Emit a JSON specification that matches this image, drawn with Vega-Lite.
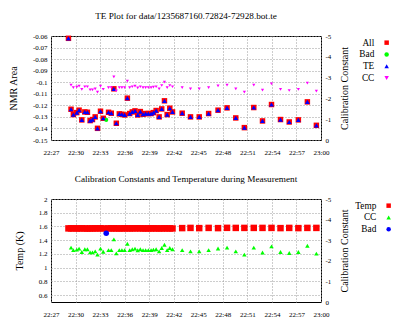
{
  "$schema": "https://vega.github.io/schema/vega-lite/v6.json",
  "background": "white",
  "padding": {"left": 8, "top": 11, "right": 0, "bottom": 0},
  "spacing": 18,
  "config": {
    "font": "Liberation Serif",
    "view": {"stroke": "#000000", "strokeWidth": 1},
    "axis": {
      "labelFont": "Liberation Serif", "labelFontSize": 7, "labelColor": "#000000",
      "titleFont": "Liberation Serif", "titleFontSize": 10, "titleFontWeight": "normal", "titleColor": "#000000",
      "domain": false, "ticks": false, "gridColor": "#9a9a9a", "gridDash": [1, 2]
    },
    "legend": {"labelFont": "Liberation Serif", "labelFontSize": 9.3, "labelColor": "#000000", "labelAlign": "right", "labelOffset": -17, "symbolSize": 20, "rowPadding": 1.8, "padding": 0, "symbolStrokeWidth": 0},
    "title": {"font": "Liberation Serif", "fontSize": 9.2, "fontWeight": "normal", "color": "#000000", "offset": 11}
  },
  "resolve": {"scale": {"color": "independent", "shape": "independent", "size": "independent"}},
  "vconcat": [
    {
      "title": "TE Plot for data/1235687160.72824-72928.bot.te",
      "width": 270,
      "height": 104,
      "data": {"values": [
        {"s": "All", "t": "2009-02-26T22:29:08", "v": -0.062},
        {"s": "All", "t": "2009-02-26T22:29:27", "v": -0.1234},
        {"s": "All", "t": "2009-02-26T22:29:44", "v": -0.128},
        {"s": "All", "t": "2009-02-26T22:30:09", "v": -0.1263},
        {"s": "All", "t": "2009-02-26T22:30:26", "v": -0.1242},
        {"s": "All", "t": "2009-02-26T22:30:46", "v": -0.1326},
        {"s": "All", "t": "2009-02-26T22:31:08", "v": -0.1257},
        {"s": "All", "t": "2009-02-26T22:31:27", "v": -0.126},
        {"s": "All", "t": "2009-02-26T22:31:47", "v": -0.1332},
        {"s": "All", "t": "2009-02-26T22:32:04", "v": -0.1323},
        {"s": "All", "t": "2009-02-26T22:32:24", "v": -0.130},
        {"s": "All", "t": "2009-02-26T22:32:41", "v": -0.1399},
        {"s": "All", "t": "2009-02-26T22:33:03", "v": -0.1251},
        {"s": "All", "t": "2009-02-26T22:33:23", "v": -0.1312},
        {"s": "All", "t": "2009-02-26T22:34:02", "v": -0.126},
        {"s": "All", "t": "2009-02-26T22:34:22", "v": -0.1268},
        {"s": "All", "t": "2009-02-26T22:34:41", "v": -0.1057},
        {"s": "All", "t": "2009-02-26T22:34:59", "v": -0.1355},
        {"s": "All", "t": "2009-02-26T22:35:21", "v": -0.1274},
        {"s": "All", "t": "2009-02-26T22:35:40", "v": -0.1277},
        {"s": "All", "t": "2009-02-26T22:36:00", "v": -0.1283},
        {"s": "All", "t": "2009-02-26T22:36:20", "v": -0.1138},
        {"s": "All", "t": "2009-02-26T22:36:37", "v": -0.1271},
        {"s": "All", "t": "2009-02-26T22:36:56", "v": -0.1257},
        {"s": "All", "t": "2009-02-26T22:37:16", "v": -0.1248},
        {"s": "All", "t": "2009-02-26T22:37:36", "v": -0.1283},
        {"s": "All", "t": "2009-02-26T22:37:55", "v": -0.1254},
        {"s": "All", "t": "2009-02-26T22:38:15", "v": -0.1277},
        {"s": "All", "t": "2009-02-26T22:38:34", "v": -0.1271},
        {"s": "All", "t": "2009-02-26T22:38:54", "v": -0.1271},
        {"s": "All", "t": "2009-02-26T22:39:14", "v": -0.1271},
        {"s": "All", "t": "2009-02-26T22:39:31", "v": -0.1263},
        {"s": "All", "t": "2009-02-26T22:39:51", "v": -0.1245},
        {"s": "All", "t": "2009-02-26T22:40:13", "v": -0.130},
        {"s": "All", "t": "2009-02-26T22:40:32", "v": -0.1231},
        {"s": "All", "t": "2009-02-26T22:40:52", "v": -0.1161},
        {"s": "All", "t": "2009-02-26T22:41:12", "v": -0.128},
        {"s": "All", "t": "2009-02-26T22:41:31", "v": -0.1225},
        {"s": "All", "t": "2009-02-26T22:41:51", "v": -0.1257},
        {"s": "All", "t": "2009-02-26T22:43:02", "v": -0.1268},
        {"s": "All", "t": "2009-02-26T22:44:03", "v": -0.130},
        {"s": "All", "t": "2009-02-26T22:45:07", "v": -0.130},
        {"s": "All", "t": "2009-02-26T22:46:16", "v": -0.1271},
        {"s": "All", "t": "2009-02-26T22:47:25", "v": -0.1242},
        {"s": "All", "t": "2009-02-26T22:48:31", "v": -0.1222},
        {"s": "All", "t": "2009-02-26T22:49:35", "v": -0.1309},
        {"s": "All", "t": "2009-02-26T22:50:38", "v": -0.1393},
        {"s": "All", "t": "2009-02-26T22:51:47", "v": -0.1219},
        {"s": "All", "t": "2009-02-26T22:52:51", "v": -0.1335},
        {"s": "All", "t": "2009-02-26T22:53:57", "v": -0.1193},
        {"s": "All", "t": "2009-02-26T22:55:03", "v": -0.1323},
        {"s": "All", "t": "2009-02-26T22:56:07", "v": -0.1344},
        {"s": "All", "t": "2009-02-26T22:57:14", "v": -0.1326},
        {"s": "All", "t": "2009-02-26T22:58:20", "v": -0.117},
        {"s": "All", "t": "2009-02-26T22:59:26", "v": -0.1373},
        {"s": "Bad", "t": "2009-02-26T22:33:45", "v": -0.1326},
        {"s": "TE", "t": "2009-02-26T22:29:08", "v": -0.062},
        {"s": "TE", "t": "2009-02-26T22:29:27", "v": -0.1234},
        {"s": "TE", "t": "2009-02-26T22:29:44", "v": -0.128},
        {"s": "TE", "t": "2009-02-26T22:30:09", "v": -0.1263},
        {"s": "TE", "t": "2009-02-26T22:30:26", "v": -0.1242},
        {"s": "TE", "t": "2009-02-26T22:30:46", "v": -0.1326},
        {"s": "TE", "t": "2009-02-26T22:31:08", "v": -0.1257},
        {"s": "TE", "t": "2009-02-26T22:31:27", "v": -0.126},
        {"s": "TE", "t": "2009-02-26T22:31:47", "v": -0.1332},
        {"s": "TE", "t": "2009-02-26T22:32:04", "v": -0.1323},
        {"s": "TE", "t": "2009-02-26T22:32:24", "v": -0.130},
        {"s": "TE", "t": "2009-02-26T22:32:41", "v": -0.1399},
        {"s": "TE", "t": "2009-02-26T22:33:03", "v": -0.1251},
        {"s": "TE", "t": "2009-02-26T22:33:23", "v": -0.1312},
        {"s": "TE", "t": "2009-02-26T22:34:02", "v": -0.126},
        {"s": "TE", "t": "2009-02-26T22:34:22", "v": -0.1268},
        {"s": "TE", "t": "2009-02-26T22:34:41", "v": -0.1057},
        {"s": "TE", "t": "2009-02-26T22:34:59", "v": -0.1355},
        {"s": "TE", "t": "2009-02-26T22:35:21", "v": -0.1274},
        {"s": "TE", "t": "2009-02-26T22:35:40", "v": -0.1277},
        {"s": "TE", "t": "2009-02-26T22:36:00", "v": -0.1283},
        {"s": "TE", "t": "2009-02-26T22:36:20", "v": -0.1138},
        {"s": "TE", "t": "2009-02-26T22:36:37", "v": -0.1271},
        {"s": "TE", "t": "2009-02-26T22:36:56", "v": -0.1257},
        {"s": "TE", "t": "2009-02-26T22:37:16", "v": -0.1248},
        {"s": "TE", "t": "2009-02-26T22:37:36", "v": -0.1283},
        {"s": "TE", "t": "2009-02-26T22:37:55", "v": -0.1254},
        {"s": "TE", "t": "2009-02-26T22:38:15", "v": -0.1277},
        {"s": "TE", "t": "2009-02-26T22:38:34", "v": -0.1271},
        {"s": "TE", "t": "2009-02-26T22:38:54", "v": -0.1271},
        {"s": "TE", "t": "2009-02-26T22:39:14", "v": -0.1271},
        {"s": "TE", "t": "2009-02-26T22:39:31", "v": -0.1263},
        {"s": "TE", "t": "2009-02-26T22:39:51", "v": -0.1245},
        {"s": "TE", "t": "2009-02-26T22:40:13", "v": -0.130},
        {"s": "TE", "t": "2009-02-26T22:40:32", "v": -0.1231},
        {"s": "TE", "t": "2009-02-26T22:40:52", "v": -0.1161},
        {"s": "TE", "t": "2009-02-26T22:41:12", "v": -0.128},
        {"s": "TE", "t": "2009-02-26T22:41:31", "v": -0.1225},
        {"s": "TE", "t": "2009-02-26T22:41:51", "v": -0.1257},
        {"s": "TE", "t": "2009-02-26T22:43:02", "v": -0.1268},
        {"s": "TE", "t": "2009-02-26T22:44:03", "v": -0.130},
        {"s": "TE", "t": "2009-02-26T22:45:07", "v": -0.130},
        {"s": "TE", "t": "2009-02-26T22:46:16", "v": -0.1271},
        {"s": "TE", "t": "2009-02-26T22:47:25", "v": -0.1242},
        {"s": "TE", "t": "2009-02-26T22:48:31", "v": -0.1222},
        {"s": "TE", "t": "2009-02-26T22:49:35", "v": -0.1309},
        {"s": "TE", "t": "2009-02-26T22:50:38", "v": -0.1393},
        {"s": "TE", "t": "2009-02-26T22:51:47", "v": -0.1219},
        {"s": "TE", "t": "2009-02-26T22:52:51", "v": -0.1335},
        {"s": "TE", "t": "2009-02-26T22:53:57", "v": -0.1193},
        {"s": "TE", "t": "2009-02-26T22:55:03", "v": -0.1323},
        {"s": "TE", "t": "2009-02-26T22:56:07", "v": -0.1344},
        {"s": "TE", "t": "2009-02-26T22:57:14", "v": -0.1326},
        {"s": "TE", "t": "2009-02-26T22:58:20", "v": -0.117},
        {"s": "TE", "t": "2009-02-26T22:59:26", "v": -0.1373},
        {"s": "CC", "t": "2009-02-26T22:29:27", "v": -2.64},
        {"s": "CC", "t": "2009-02-26T22:29:44", "v": -2.52},
        {"s": "CC", "t": "2009-02-26T22:30:09", "v": -2.54},
        {"s": "CC", "t": "2009-02-26T22:30:26", "v": -2.59},
        {"s": "CC", "t": "2009-02-26T22:30:46", "v": -2.43},
        {"s": "CC", "t": "2009-02-26T22:31:08", "v": -2.56},
        {"s": "CC", "t": "2009-02-26T22:31:27", "v": -2.56},
        {"s": "CC", "t": "2009-02-26T22:31:47", "v": -2.41},
        {"s": "CC", "t": "2009-02-26T22:32:04", "v": -2.41},
        {"s": "CC", "t": "2009-02-26T22:32:24", "v": -2.46},
        {"s": "CC", "t": "2009-02-26T22:32:41", "v": -2.30},
        {"s": "CC", "t": "2009-02-26T22:33:03", "v": -2.59},
        {"s": "CC", "t": "2009-02-26T22:33:23", "v": -2.44},
        {"s": "CC", "t": "2009-02-26T22:34:02", "v": -2.52},
        {"s": "CC", "t": "2009-02-26T22:34:22", "v": -2.52},
        {"s": "CC", "t": "2009-02-26T22:34:41", "v": -3.04},
        {"s": "CC", "t": "2009-02-26T22:34:59", "v": -2.36},
        {"s": "CC", "t": "2009-02-26T22:35:21", "v": -2.52},
        {"s": "CC", "t": "2009-02-26T22:35:40", "v": -2.52},
        {"s": "CC", "t": "2009-02-26T22:36:00", "v": -2.52},
        {"s": "CC", "t": "2009-02-26T22:36:20", "v": -2.83},
        {"s": "CC", "t": "2009-02-26T22:36:37", "v": -2.52},
        {"s": "CC", "t": "2009-02-26T22:36:56", "v": -2.56},
        {"s": "CC", "t": "2009-02-26T22:37:16", "v": -2.59},
        {"s": "CC", "t": "2009-02-26T22:37:36", "v": -2.51},
        {"s": "CC", "t": "2009-02-26T22:37:55", "v": -2.56},
        {"s": "CC", "t": "2009-02-26T22:38:15", "v": -2.52},
        {"s": "CC", "t": "2009-02-26T22:38:34", "v": -2.52},
        {"s": "CC", "t": "2009-02-26T22:38:54", "v": -2.52},
        {"s": "CC", "t": "2009-02-26T22:39:14", "v": -2.52},
        {"s": "CC", "t": "2009-02-26T22:39:31", "v": -2.54},
        {"s": "CC", "t": "2009-02-26T22:39:51", "v": -2.56},
        {"s": "CC", "t": "2009-02-26T22:40:13", "v": -2.46},
        {"s": "CC", "t": "2009-02-26T22:40:32", "v": -2.62},
        {"s": "CC", "t": "2009-02-26T22:40:52", "v": -2.78},
        {"s": "CC", "t": "2009-02-26T22:41:12", "v": -2.52},
        {"s": "CC", "t": "2009-02-26T22:41:31", "v": -2.62},
        {"s": "CC", "t": "2009-02-26T22:41:51", "v": -2.56},
        {"s": "CC", "t": "2009-02-26T22:43:02", "v": -2.52},
        {"s": "CC", "t": "2009-02-26T22:44:03", "v": -2.46},
        {"s": "CC", "t": "2009-02-26T22:45:07", "v": -2.46},
        {"s": "CC", "t": "2009-02-26T22:46:16", "v": -2.52},
        {"s": "CC", "t": "2009-02-26T22:47:25", "v": -2.60},
        {"s": "CC", "t": "2009-02-26T22:48:31", "v": -2.64},
        {"s": "CC", "t": "2009-02-26T22:49:35", "v": -2.46},
        {"s": "CC", "t": "2009-02-26T22:50:38", "v": -2.30},
        {"s": "CC", "t": "2009-02-26T22:51:47", "v": -2.64},
        {"s": "CC", "t": "2009-02-26T22:52:51", "v": -2.40},
        {"s": "CC", "t": "2009-02-26T22:53:57", "v": -2.70},
        {"s": "CC", "t": "2009-02-26T22:55:03", "v": -2.43},
        {"s": "CC", "t": "2009-02-26T22:56:07", "v": -2.38},
        {"s": "CC", "t": "2009-02-26T22:57:14", "v": -2.43},
        {"s": "CC", "t": "2009-02-26T22:58:20", "v": -2.73},
        {"s": "CC", "t": "2009-02-26T22:59:26", "v": -2.35}
      ]},
      "encoding": {
        "x": {"field": "t", "type": "temporal",
          "scale": {"domain": [{"year": 2009, "month": 2, "date": 26, "hours": 22, "minutes": 27}, {"year": 2009, "month": 2, "date": 26, "hours": 23, "minutes": 0}], "nice": false},
          "axis": {"title": null, "format": "%H:%M", "grid": true, "labelPadding": 8, "labelFlush": false,
            "values": [
              {"year": 2009, "month": 2, "date": 26, "hours": 22, "minutes": 27},
              {"year": 2009, "month": 2, "date": 26, "hours": 22, "minutes": 30},
              {"year": 2009, "month": 2, "date": 26, "hours": 22, "minutes": 33},
              {"year": 2009, "month": 2, "date": 26, "hours": 22, "minutes": 36},
              {"year": 2009, "month": 2, "date": 26, "hours": 22, "minutes": 39},
              {"year": 2009, "month": 2, "date": 26, "hours": 22, "minutes": 42},
              {"year": 2009, "month": 2, "date": 26, "hours": 22, "minutes": 45},
              {"year": 2009, "month": 2, "date": 26, "hours": 22, "minutes": 48},
              {"year": 2009, "month": 2, "date": 26, "hours": 22, "minutes": 51},
              {"year": 2009, "month": 2, "date": 26, "hours": 22, "minutes": 54},
              {"year": 2009, "month": 2, "date": 26, "hours": 22, "minutes": 57},
              {"year": 2009, "month": 2, "date": 26, "hours": 23, "minutes": 0}
            ]}},
        "color": {"field": "s", "type": "nominal", "title": null,
          "scale": {"domain": ["All", "Bad", "TE", "CC"], "range": ["#ff0000", "#00ff00", "#0000ff", "#ff00ff"]},
          "legend": {"title": null, "orient": "none", "legendX": 331, "legendY": 2}},
        "shape": {"field": "s", "type": "nominal", "title": null,
          "scale": {"domain": ["All", "Bad", "TE", "CC"], "range": ["square", "circle", "triangle-up", "triangle-down"]},
          "legend": {"title": null, "orient": "none", "legendX": 331, "legendY": 2}},
        "size": {"field": "s", "type": "nominal", "legend": null,
          "scale": {"domain": ["All", "TE", "Bad", "CC"], "range": [30, 10, 16, 14]}}
      },
      "layer": [
        {
          "transform": [{"filter": {"field": "s", "oneOf": ["All", "Bad", "TE"]}}],
          "mark": {"type": "point", "filled": true, "opacity": 1},
          "encoding": {
            "y": {"field": "v", "type": "quantitative",
              "scale": {"domain": [-0.15, -0.06], "nice": false, "zero": false},
              "axis": {"title": "NMR Area", "values": [-0.15, -0.14, -0.13, -0.12, -0.11, -0.1, -0.09, -0.08, -0.07, -0.06], "format": "~g", "labelExpr": "replace(datum.label, '\u2212', '-')", "grid": true, "labelPadding": 4, "titlePadding": 13.5}}
          }
        },
        {
          "transform": [{"filter": {"field": "s", "equal": "CC"}}],
          "mark": {"type": "point", "filled": true, "opacity": 1},
          "encoding": {
            "y": {"field": "v", "type": "quantitative",
              "scale": {"domain": [-5, 0], "reverse": true, "nice": false, "zero": false},
              "axis": {"orient": "right", "title": "Calibration Constant", "values": [-5, -4, -3, -2, -1, 0], "format": "~g", "labelExpr": "replace(datum.label, '\u2212', '-')", "grid": false, "labelPadding": 4, "titlePadding": 8.5, "titleAngle": 270, "titleBaseline": "top"}}
          }
        }
      ],
      "resolve": {"scale": {"y": "independent"}}
    },
    {
      "title": "Calibration Constants and Temperature during Measurement",
      "width": 270,
      "height": 103,
      "data": {"values": [
        {"s": "Temp", "t": "2009-02-26T22:29:08", "v": 1.572},
        {"s": "Temp", "t": "2009-02-26T22:29:27", "v": 1.572},
        {"s": "Temp", "t": "2009-02-26T22:29:44", "v": 1.573},
        {"s": "Temp", "t": "2009-02-26T22:30:09", "v": 1.571},
        {"s": "Temp", "t": "2009-02-26T22:30:26", "v": 1.572},
        {"s": "Temp", "t": "2009-02-26T22:30:46", "v": 1.573},
        {"s": "Temp", "t": "2009-02-26T22:31:08", "v": 1.571},
        {"s": "Temp", "t": "2009-02-26T22:31:27", "v": 1.570},
        {"s": "Temp", "t": "2009-02-26T22:31:47", "v": 1.571},
        {"s": "Temp", "t": "2009-02-26T22:32:04", "v": 1.572},
        {"s": "Temp", "t": "2009-02-26T22:32:24", "v": 1.573},
        {"s": "Temp", "t": "2009-02-26T22:32:41", "v": 1.572},
        {"s": "Temp", "t": "2009-02-26T22:33:03", "v": 1.573},
        {"s": "Temp", "t": "2009-02-26T22:33:23", "v": 1.572},
        {"s": "Temp", "t": "2009-02-26T22:34:02", "v": 1.573},
        {"s": "Temp", "t": "2009-02-26T22:34:22", "v": 1.572},
        {"s": "Temp", "t": "2009-02-26T22:34:41", "v": 1.573},
        {"s": "Temp", "t": "2009-02-26T22:34:59", "v": 1.572},
        {"s": "Temp", "t": "2009-02-26T22:35:21", "v": 1.571},
        {"s": "Temp", "t": "2009-02-26T22:35:40", "v": 1.572},
        {"s": "Temp", "t": "2009-02-26T22:36:00", "v": 1.573},
        {"s": "Temp", "t": "2009-02-26T22:36:20", "v": 1.573},
        {"s": "Temp", "t": "2009-02-26T22:36:37", "v": 1.572},
        {"s": "Temp", "t": "2009-02-26T22:36:56", "v": 1.573},
        {"s": "Temp", "t": "2009-02-26T22:37:16", "v": 1.573},
        {"s": "Temp", "t": "2009-02-26T22:37:36", "v": 1.574},
        {"s": "Temp", "t": "2009-02-26T22:37:55", "v": 1.573},
        {"s": "Temp", "t": "2009-02-26T22:38:15", "v": 1.572},
        {"s": "Temp", "t": "2009-02-26T22:38:34", "v": 1.571},
        {"s": "Temp", "t": "2009-02-26T22:38:54", "v": 1.572},
        {"s": "Temp", "t": "2009-02-26T22:39:14", "v": 1.572},
        {"s": "Temp", "t": "2009-02-26T22:39:31", "v": 1.573},
        {"s": "Temp", "t": "2009-02-26T22:39:51", "v": 1.572},
        {"s": "Temp", "t": "2009-02-26T22:40:13", "v": 1.571},
        {"s": "Temp", "t": "2009-02-26T22:40:32", "v": 1.572},
        {"s": "Temp", "t": "2009-02-26T22:40:52", "v": 1.573},
        {"s": "Temp", "t": "2009-02-26T22:41:12", "v": 1.572},
        {"s": "Temp", "t": "2009-02-26T22:41:31", "v": 1.572},
        {"s": "Temp", "t": "2009-02-26T22:41:51", "v": 1.571},
        {"s": "Temp", "t": "2009-02-26T22:43:02", "v": 1.576},
        {"s": "Temp", "t": "2009-02-26T22:44:03", "v": 1.579},
        {"s": "Temp", "t": "2009-02-26T22:45:07", "v": 1.576},
        {"s": "Temp", "t": "2009-02-26T22:46:16", "v": 1.579},
        {"s": "Temp", "t": "2009-02-26T22:47:25", "v": 1.576},
        {"s": "Temp", "t": "2009-02-26T22:48:31", "v": 1.580},
        {"s": "Temp", "t": "2009-02-26T22:49:35", "v": 1.579},
        {"s": "Temp", "t": "2009-02-26T22:50:38", "v": 1.579},
        {"s": "Temp", "t": "2009-02-26T22:51:47", "v": 1.579},
        {"s": "Temp", "t": "2009-02-26T22:52:51", "v": 1.579},
        {"s": "Temp", "t": "2009-02-26T22:53:57", "v": 1.579},
        {"s": "Temp", "t": "2009-02-26T22:55:03", "v": 1.576},
        {"s": "Temp", "t": "2009-02-26T22:56:07", "v": 1.579},
        {"s": "Temp", "t": "2009-02-26T22:57:14", "v": 1.576},
        {"s": "Temp", "t": "2009-02-26T22:58:20", "v": 1.579},
        {"s": "Temp", "t": "2009-02-26T22:59:26", "v": 1.579},
        {"s": "Bad", "t": "2009-02-26T22:33:45", "v": 1.5},
        {"s": "CC", "t": "2009-02-26T22:29:27", "v": -2.64},
        {"s": "CC", "t": "2009-02-26T22:29:44", "v": -2.52},
        {"s": "CC", "t": "2009-02-26T22:30:09", "v": -2.54},
        {"s": "CC", "t": "2009-02-26T22:30:26", "v": -2.59},
        {"s": "CC", "t": "2009-02-26T22:30:46", "v": -2.43},
        {"s": "CC", "t": "2009-02-26T22:31:08", "v": -2.56},
        {"s": "CC", "t": "2009-02-26T22:31:27", "v": -2.56},
        {"s": "CC", "t": "2009-02-26T22:31:47", "v": -2.41},
        {"s": "CC", "t": "2009-02-26T22:32:04", "v": -2.41},
        {"s": "CC", "t": "2009-02-26T22:32:24", "v": -2.46},
        {"s": "CC", "t": "2009-02-26T22:32:41", "v": -2.30},
        {"s": "CC", "t": "2009-02-26T22:33:03", "v": -2.59},
        {"s": "CC", "t": "2009-02-26T22:33:23", "v": -2.44},
        {"s": "CC", "t": "2009-02-26T22:34:02", "v": -2.52},
        {"s": "CC", "t": "2009-02-26T22:34:22", "v": -2.52},
        {"s": "CC", "t": "2009-02-26T22:34:41", "v": -3.04},
        {"s": "CC", "t": "2009-02-26T22:34:59", "v": -2.36},
        {"s": "CC", "t": "2009-02-26T22:35:21", "v": -2.52},
        {"s": "CC", "t": "2009-02-26T22:35:40", "v": -2.52},
        {"s": "CC", "t": "2009-02-26T22:36:00", "v": -2.52},
        {"s": "CC", "t": "2009-02-26T22:36:20", "v": -2.83},
        {"s": "CC", "t": "2009-02-26T22:36:37", "v": -2.52},
        {"s": "CC", "t": "2009-02-26T22:36:56", "v": -2.56},
        {"s": "CC", "t": "2009-02-26T22:37:16", "v": -2.59},
        {"s": "CC", "t": "2009-02-26T22:37:36", "v": -2.51},
        {"s": "CC", "t": "2009-02-26T22:37:55", "v": -2.56},
        {"s": "CC", "t": "2009-02-26T22:38:15", "v": -2.52},
        {"s": "CC", "t": "2009-02-26T22:38:34", "v": -2.52},
        {"s": "CC", "t": "2009-02-26T22:38:54", "v": -2.52},
        {"s": "CC", "t": "2009-02-26T22:39:14", "v": -2.52},
        {"s": "CC", "t": "2009-02-26T22:39:31", "v": -2.54},
        {"s": "CC", "t": "2009-02-26T22:39:51", "v": -2.56},
        {"s": "CC", "t": "2009-02-26T22:40:13", "v": -2.46},
        {"s": "CC", "t": "2009-02-26T22:40:32", "v": -2.62},
        {"s": "CC", "t": "2009-02-26T22:40:52", "v": -2.78},
        {"s": "CC", "t": "2009-02-26T22:41:12", "v": -2.52},
        {"s": "CC", "t": "2009-02-26T22:41:31", "v": -2.62},
        {"s": "CC", "t": "2009-02-26T22:41:51", "v": -2.56},
        {"s": "CC", "t": "2009-02-26T22:43:02", "v": -2.52},
        {"s": "CC", "t": "2009-02-26T22:44:03", "v": -2.46},
        {"s": "CC", "t": "2009-02-26T22:45:07", "v": -2.46},
        {"s": "CC", "t": "2009-02-26T22:46:16", "v": -2.52},
        {"s": "CC", "t": "2009-02-26T22:47:25", "v": -2.60},
        {"s": "CC", "t": "2009-02-26T22:48:31", "v": -2.64},
        {"s": "CC", "t": "2009-02-26T22:49:35", "v": -2.46},
        {"s": "CC", "t": "2009-02-26T22:50:38", "v": -2.30},
        {"s": "CC", "t": "2009-02-26T22:51:47", "v": -2.64},
        {"s": "CC", "t": "2009-02-26T22:52:51", "v": -2.40},
        {"s": "CC", "t": "2009-02-26T22:53:57", "v": -2.70},
        {"s": "CC", "t": "2009-02-26T22:55:03", "v": -2.43},
        {"s": "CC", "t": "2009-02-26T22:56:07", "v": -2.38},
        {"s": "CC", "t": "2009-02-26T22:57:14", "v": -2.43},
        {"s": "CC", "t": "2009-02-26T22:58:20", "v": -2.73},
        {"s": "CC", "t": "2009-02-26T22:59:26", "v": -2.35}
      ]},
      "encoding": {
        "x": {"field": "t", "type": "temporal",
          "scale": {"domain": [{"year": 2009, "month": 2, "date": 26, "hours": 22, "minutes": 27}, {"year": 2009, "month": 2, "date": 26, "hours": 23, "minutes": 0}], "nice": false},
          "axis": {"title": null, "format": "%H:%M", "grid": true, "labelPadding": 8, "labelFlush": false,
            "values": [
              {"year": 2009, "month": 2, "date": 26, "hours": 22, "minutes": 27},
              {"year": 2009, "month": 2, "date": 26, "hours": 22, "minutes": 30},
              {"year": 2009, "month": 2, "date": 26, "hours": 22, "minutes": 33},
              {"year": 2009, "month": 2, "date": 26, "hours": 22, "minutes": 36},
              {"year": 2009, "month": 2, "date": 26, "hours": 22, "minutes": 39},
              {"year": 2009, "month": 2, "date": 26, "hours": 22, "minutes": 42},
              {"year": 2009, "month": 2, "date": 26, "hours": 22, "minutes": 45},
              {"year": 2009, "month": 2, "date": 26, "hours": 22, "minutes": 48},
              {"year": 2009, "month": 2, "date": 26, "hours": 22, "minutes": 51},
              {"year": 2009, "month": 2, "date": 26, "hours": 22, "minutes": 54},
              {"year": 2009, "month": 2, "date": 26, "hours": 22, "minutes": 57},
              {"year": 2009, "month": 2, "date": 26, "hours": 23, "minutes": 0}
            ]}},
        "color": {"field": "s", "type": "nominal", "title": null,
          "scale": {"domain": ["Temp", "CC", "Bad"], "range": ["#ff0000", "#00ff00", "#0000ff"]},
          "legend": {"title": null, "orient": "none", "legendX": 333, "legendY": 2}},
        "shape": {"field": "s", "type": "nominal", "title": null,
          "scale": {"domain": ["Temp", "CC", "Bad"], "range": ["square", "triangle-up", "circle"]},
          "legend": {"title": null, "orient": "none", "legendX": 333, "legendY": 2}},
        "size": {"field": "s", "type": "nominal", "legend": null,
          "scale": {"domain": ["Temp", "Bad", "CC"], "range": [42, 20, 14]}}
      },
      "layer": [
        {
          "transform": [{"filter": {"field": "s", "oneOf": ["Temp", "Bad"]}}],
          "mark": {"type": "point", "filled": true, "opacity": 1},
          "encoding": {
            "y": {"field": "v", "type": "quantitative",
              "scale": {"domain": [0.5, 2], "nice": false, "zero": false},
              "axis": {"title": "Temp (K)", "values": [0.6, 0.8, 1, 1.2, 1.4, 1.6, 1.8, 2], "format": "~g", "grid": true, "labelPadding": 4, "titlePadding": 13.5}}
          }
        },
        {
          "transform": [{"filter": {"field": "s", "equal": "CC"}}],
          "mark": {"type": "point", "filled": true, "opacity": 1},
          "encoding": {
            "y": {"field": "v", "type": "quantitative",
              "scale": {"domain": [-5, 0], "reverse": true, "nice": false, "zero": false},
              "axis": {"orient": "right", "title": "Calibration Constant", "values": [-5, -4, -3, -2, -1, 0], "format": "~g", "labelExpr": "replace(datum.label, '\u2212', '-')", "grid": false, "labelPadding": 4, "titlePadding": 8.5, "titleAngle": 270, "titleBaseline": "top"}}
          }
        }
      ],
      "resolve": {"scale": {"y": "independent"}}
    }
  ]
}
